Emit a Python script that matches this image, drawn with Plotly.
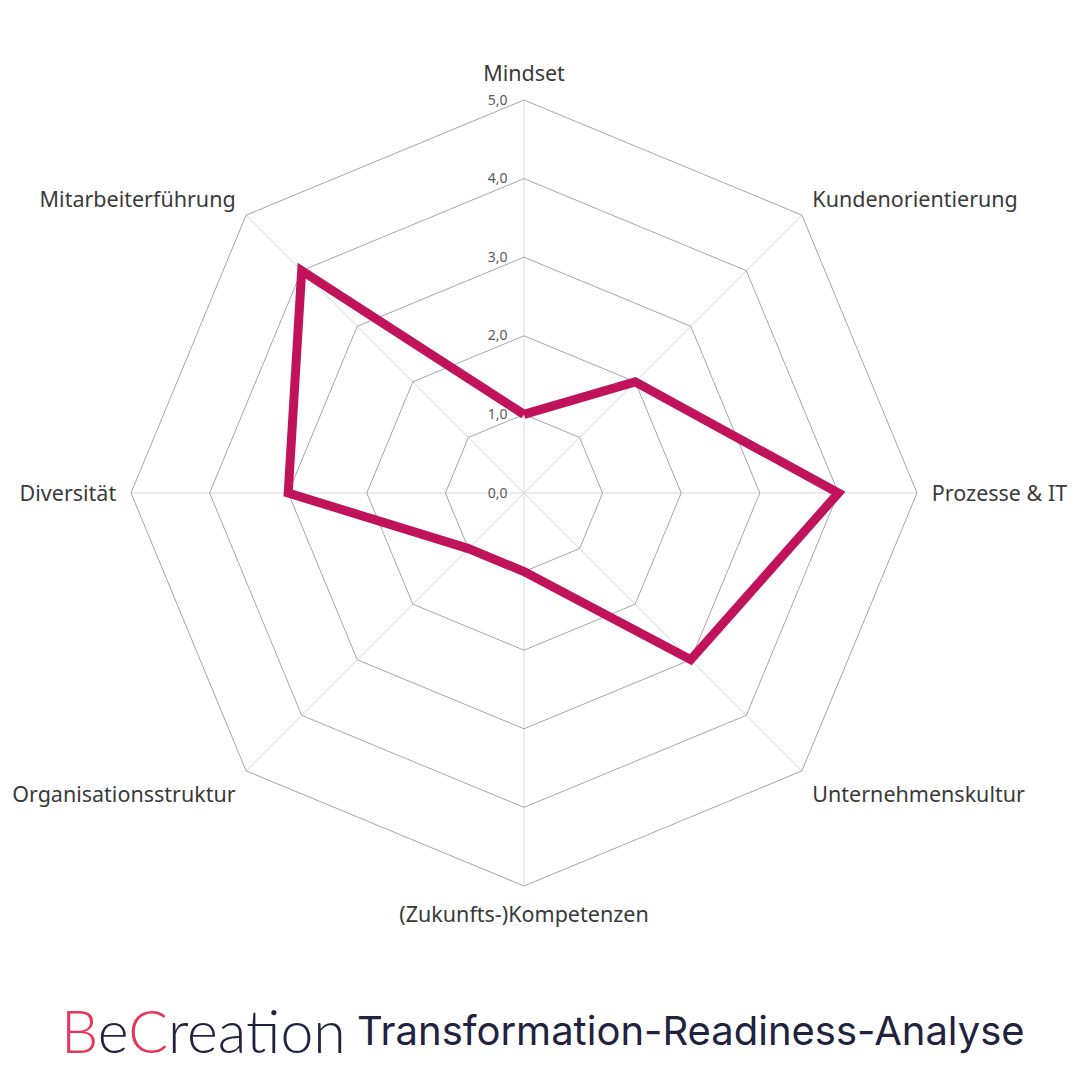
import plotly.graph_objects as go

categories = ["Mindset", "Kundenorientierung", "Prozesse & IT", "Unternehmenskultur",
              "(Zukunfts-)Kompetenzen", "Organisationsstruktur", "Diversität", "Mitarbeiterführung"]
values = [1.0, 2.0, 4.0, 3.0, 1.0, 1.0, 3.0, 4.0]
tick_vals = [0, 1, 2, 3, 4, 5]
tick_text = ["0,0", "1,0", "2,0", "3,0", "4,0", "5,0"]

fig = go.Figure()
fig.add_trace(go.Scatterpolar(
    r=values + values[:1],
    theta=categories + categories[:1],
    mode="lines",
    line=dict(color="#C0135C", width=9),
    hoverinfo="skip",
    showlegend=False,
))

fig.update_layout(
    width=1080, height=1080,
    margin=dict(l=0, r=0, t=0, b=0),
    paper_bgcolor="white",
    plot_bgcolor="white",
    font=dict(family="Noto Sans", color="#333333"),
    polar=dict(
        domain=dict(x=[131/1080, 917/1080], y=[194/1080, 980/1080]),
        bgcolor="white",
        gridshape="linear",
        radialaxis=dict(
            range=[0, 5], tickvals=tick_vals, ticktext=tick_text,
            angle=90, tickangle=90, side="counterclockwise",
            showline=False, ticks="outside", ticklen=11, tickcolor="rgba(0,0,0,0)",
            gridcolor="#a6a6a6", gridwidth=1,
            tickfont=dict(size=14, color="#595959"),
        ),
        angularaxis=dict(
            direction="clockwise", rotation=90,
            showline=True, linecolor="#a6a6a6", linewidth=1,
            gridcolor="#d9d9d9", gridwidth=1,
            ticks="outside", ticklen=10, tickcolor="rgba(0,0,0,0)",
            tickfont=dict(size=21.5, color="#3a3a3a"),
        ),
    ),
)

fig.add_annotation(
    x=59/1080, y=1 - 1030/1080, xref="paper", yref="paper",
    xanchor="left", yanchor="middle", showarrow=False,
    text=("<span style='color:#E8365A'>B</span><span style='color:#1F2340'>e</span>"
          "<span style='color:#E8365A'>C</span><span style='color:#1F2340'>reation</span>"),
    font=dict(family="Lato", size=59, weight=300, color="#1F2340"),
)
fig.add_annotation(
    x=355/1080, y=1 - 1030/1080, xref="paper", yref="paper",
    xanchor="left", yanchor="middle", showarrow=False,
    text="Transformation-Readiness-Analyse",
    font=dict(family="Inter", size=40, color="#1F2340"),
)

fig.write_html("out.html")
